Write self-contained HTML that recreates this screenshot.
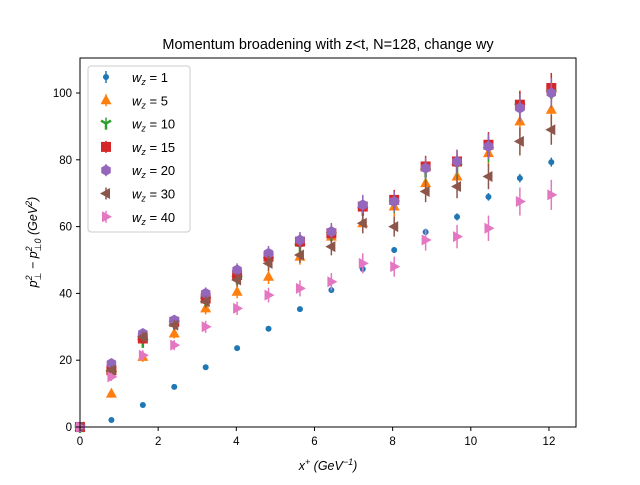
<!DOCTYPE html>
<html><head><meta charset="utf-8"><style>
body{margin:0;background:#fff}
svg{font-family:"Liberation Sans","DejaVu Sans",sans-serif}
</style></head><body>
<svg id="chart" width="640" height="480" viewBox="0 0 640 480" xmlns="http://www.w3.org/2000/svg">
<rect width="640" height="480" fill="#fff"/>
<text x="328" y="49" text-anchor="middle" font-size="14.5">Momentum broadening with z&lt;t, N=128, change wy</text>
<g id="plot"></g>
<rect x="80" y="58" width="496" height="369" fill="none" stroke="#000" stroke-width="1"/>
<g id="axes"></g>
<text x="328" y="470" text-anchor="middle" font-size="12.5" font-style="italic">x<tspan font-size="9" dy="-5">+</tspan><tspan dy="5">  (GeV</tspan><tspan font-size="9" dy="-5">−1</tspan><tspan dy="5">)</tspan></text>
<text transform="translate(37,242) rotate(-90)" text-anchor="middle" font-size="12.5" font-style="italic">p<tspan font-size="9" dy="-5">2</tspan><tspan font-size="9" dx="-5" dy="9">⊥</tspan><tspan dy="-4"> − p</tspan><tspan font-size="9" dy="-5">2</tspan><tspan font-size="9" dx="-5" dy="9">⊥0</tspan><tspan dy="-4">  (GeV</tspan><tspan font-size="9" dy="-5">2</tspan><tspan dy="5">)</tspan></text>
<g id="legend"></g>
</svg>
<script>
const xVals=[0,0.804,1.608,2.412,3.216,4.02,4.824,5.628,6.432,7.236,8.04,8.844,9.648,10.452,11.256,12.06];
const labels=["1","5","10","15","20","30","40"];
const w1=[0,2.1,6.6,12,17.9,23.6,29.4,35.3,41,47.3,53,58.4,62.9,68.9,74.5,79.3];
const w5=[0,10,21,28,35.5,40.5,45,51,57,61,66,73,75,82,91.5,95];
const w10=[0,16,25.5,31,38,44.5,50,54,57.5,65,67,76.5,78,83,96,100];
const w15=[0,17,26.5,31.5,38.5,45.5,51,55.5,58,66,68,78,79.5,84.5,96.5,101.5];
const w20=[0,19,28,32,40,47,52,56,58.5,66.5,67.5,77.5,79.5,84,95.5,100];
const w30=[0,17,27,30.5,37.5,44,49,51.5,54,61,60,70.5,72,75,85.5,89];
const w40=[0,15,21.5,24.5,30,35.5,39.5,41.5,43.5,49,48,56,57,59.5,67.5,69.5];
const errs=[0,1.2,1.5,1.5,1.8,2,2.2,2.4,2.6,3,3,3.2,3.5,3.8,4.2,4.5];
const xTicks=[0,2,4,6,8,10,12];
const yTicks=[0,20,40,60,80,100];
const X=v=>80+v*39.08, Y=v=>427-v*3.34;
const NS="http://www.w3.org/2000/svg";
function mk(t,a,p){const e=document.createElementNS(NS,t);for(const k in a)e.setAttribute(k,a[k]);p.appendChild(e);return e;}
const plot=document.getElementById('plot'),axes=document.getElementById('axes'),leg=document.getElementById('legend');
const series=[
 {d:w1,c:"#1f77b4",m:"dot"},{d:w5,c:"#ff7f0e",m:"tri_up"},{d:w10,c:"#2ca02c",m:"tri_down"},
 {d:w15,c:"#d62728",m:"square"},{d:w20,c:"#9467bd",m:"hex"},{d:w30,c:"#8c564b",m:"left"},{d:w40,c:"#e377c2",m:"right"}];
function marker(g,m,x,y,c){
 let e;
 if(m==="dot")e=mk('circle',{cx:x,cy:y,r:3,fill:c},g);
 else if(m==="tri_up")e=mk('polygon',{points:`${x},${y-6} ${x+5.5},${y+4} ${x-5.5},${y+4}`,fill:c},g);
 else if(m==="tri_down"){e=mk('path',{d:`M${x},${y}L${x},${y+6}M${x},${y}L${x-5},${y-3}M${x},${y}L${x+5},${y-3}`,stroke:c,'stroke-width':2.5,fill:'none'},g);}
 else if(m==="square")e=mk('rect',{x:x-5,y:y-5,width:10,height:10,fill:c},g);
 else if(m==="hex"){let p=[];for(let i=0;i<6;i++){const a=Math.PI/6+i*Math.PI/3;p.push((x+5.5*Math.cos(a))+","+(y+5.5*Math.sin(a)));}e=mk('polygon',{points:p.join(' '),fill:c},g);}
 else if(m==="left")e=mk('polygon',{points:`${x-6},${y} ${x+4},${y-5.5} ${x+4},${y+5.5}`,fill:c},g);
 else e=mk('polygon',{points:`${x+6},${y} ${x-4},${y-5.5} ${x-4},${y+5.5}`,fill:c},g);
 return e;
}
series.forEach((s,si)=>{
 const g=mk('g',{},plot);
 
 
 s.d.forEach((v,i)=>{
  const x=X(xVals[i]),y=Y(v),e=si===0?errs[i]*0.3:errs[i];
  const l=mk('line',{x1:x,x2:x,y1:Y(v+e),y2:Y(v-e),stroke:s.c,'stroke-width':1.5},g);
  
  
  const m=marker(g,s.m,x,y,s.c);
  
  
 });
});
xTicks.forEach(t=>{const x=X(t);mk('line',{x1:x,x2:x,y1:427,y2:431,stroke:'#000'},axes);
 const tx=mk('text',{x:x,y:445,'text-anchor':'middle','font-size':11.5},axes);tx.textContent=t;
 
 });
yTicks.forEach(t=>{const y=Y(t);mk('line',{x1:76,x2:80,y1:y,y2:y,stroke:'#000'},axes);
 const tx=mk('text',{x:72,y:y+4,'text-anchor':'end','font-size':11.5},axes);tx.textContent=t;
 
 });
const box=mk('rect',{x:88,y:66,width:102,height:166,rx:3,fill:'#fff','fill-opacity':0.8,stroke:'#ccc'},leg);


series.forEach((s,i)=>{
 const y=77+i*23.3;
 const g=mk('g',{},leg);
 
 
 mk('line',{x1:106,x2:106,y1:y-6,y2:y+6,stroke:s.c,'stroke-width':1.5},g);
 marker(g,s.m,106,y,s.c);
 const t=mk('text',{x:132,y:y+5,'font-size':13},g);
 t.innerHTML='<tspan font-style="italic">w</tspan><tspan font-size="9" font-style="italic" dy="3">z</tspan><tspan dy="-3"> = '+labels[i]+'</tspan>';
});
</script>
</body></html>
